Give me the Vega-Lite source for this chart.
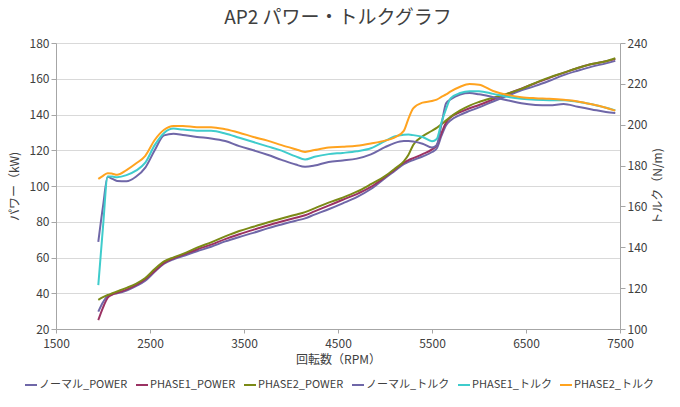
{
  "$schema": "https://vega.github.io/schema/vega-lite/v6.json",
  "autosize": "none",
  "width": 564,
  "height": 286,
  "padding": {"left": 56, "top": 43, "right": 60, "bottom": 78},
  "background": "white",
  "title": {
    "text": "AP2 パワー・トルクグラフ",
    "anchor": "middle",
    "fontSize": 19,
    "fontWeight": "normal",
    "font": "Noto Sans CJK JP",
    "color": "#404040",
    "offset": 9
  },
  "data": {
    "values": [
      {"rpm": 1950, "ノーマル_POWER": 29.7, "PHASE1_POWER": 25, "PHASE2_POWER": 36.3, "ノーマル_トルク": 142.7, "PHASE1_トルク": 121.5, "PHASE2_トルク": 173.5},
      {"rpm": 2000, "ノーマル_POWER": 35, "PHASE1_POWER": 32, "PHASE2_POWER": 37.8, "ノーマル_トルク": 160, "PHASE1_トルク": 150, "PHASE2_トルク": 175},
      {"rpm": 2050, "ノーマル_POWER": 38.5, "PHASE1_POWER": 37.5, "PHASE2_POWER": 39, "ノーマル_トルク": 174.5, "PHASE1_トルク": 174.7, "PHASE2_トルク": 176.3},
      {"rpm": 2100, "ノーマル_POWER": 39.5, "PHASE1_POWER": 39.3, "PHASE2_POWER": 40, "ノーマル_トルク": 173.5, "PHASE1_トルク": 174.6, "PHASE2_トルク": 176},
      {"rpm": 2150, "ノーマル_POWER": 40, "PHASE1_POWER": 40.2, "PHASE2_POWER": 41, "ノーマル_トルク": 172.5, "PHASE1_トルク": 174.3, "PHASE2_トルク": 175.5},
      {"rpm": 2250, "ノーマル_POWER": 41.5, "PHASE1_POWER": 42, "PHASE2_POWER": 43, "ノーマル_トルク": 172.3, "PHASE1_トルク": 175.3, "PHASE2_トルク": 177.8},
      {"rpm": 2350, "ノーマル_POWER": 44, "PHASE1_POWER": 44.5, "PHASE2_POWER": 45.3, "ノーマル_トルク": 174.5, "PHASE1_トルク": 177.5, "PHASE2_トルク": 181},
      {"rpm": 2450, "ノーマル_POWER": 47, "PHASE1_POWER": 47.8, "PHASE2_POWER": 48.5, "ノーマル_トルク": 179, "PHASE1_トルク": 181.4, "PHASE2_トルク": 184.8},
      {"rpm": 2550, "ノーマル_POWER": 52, "PHASE1_POWER": 52.5, "PHASE2_POWER": 53.5, "ノーマル_トルク": 187.5, "PHASE1_トルク": 190, "PHASE2_トルク": 192.5},
      {"rpm": 2650, "ノーマル_POWER": 56.5, "PHASE1_POWER": 57, "PHASE2_POWER": 57.8, "ノーマル_トルク": 194.8, "PHASE1_トルク": 196, "PHASE2_トルク": 197.5},
      {"rpm": 2750, "ノーマル_POWER": 59, "PHASE1_POWER": 59.6, "PHASE2_POWER": 60.1, "ノーマル_トルク": 195.6, "PHASE1_トルク": 198.1, "PHASE2_トルク": 199.4},
      {"rpm": 2850, "ノーマル_POWER": 60.8, "PHASE1_POWER": 61.5, "PHASE2_POWER": 62, "ノーマル_トルク": 195, "PHASE1_トルク": 197.6, "PHASE2_トルク": 199.4},
      {"rpm": 3000, "ノーマル_POWER": 63.5, "PHASE1_POWER": 64.5, "PHASE2_POWER": 65.5, "ノーマル_トルク": 194, "PHASE1_トルク": 197.1, "PHASE2_トルク": 198.8},
      {"rpm": 3150, "ノーマル_POWER": 66, "PHASE1_POWER": 67.2, "PHASE2_POWER": 68.5, "ノーマル_トルク": 193.3, "PHASE1_トルク": 197, "PHASE2_トルク": 198.8},
      {"rpm": 3300, "ノーマル_POWER": 69, "PHASE1_POWER": 70.3, "PHASE2_POWER": 71.8, "ノーマル_トルク": 192, "PHASE1_トルク": 195.7, "PHASE2_トルク": 197.8},
      {"rpm": 3450, "ノーマル_POWER": 71.5, "PHASE1_POWER": 73, "PHASE2_POWER": 74.8, "ノーマル_トルク": 189.5, "PHASE1_トルク": 193.6, "PHASE2_トルク": 196.1},
      {"rpm": 3600, "ノーマル_POWER": 73.8, "PHASE1_POWER": 75.5, "PHASE2_POWER": 77.2, "ノーマル_トルク": 187.5, "PHASE1_トルク": 191.5, "PHASE2_トルク": 194},
      {"rpm": 3750, "ノーマル_POWER": 76.3, "PHASE1_POWER": 77.9, "PHASE2_POWER": 79.6, "ノーマル_トルク": 185.3, "PHASE1_トルク": 189.4, "PHASE2_トルク": 192.2},
      {"rpm": 3900, "ノーマル_POWER": 78.5, "PHASE1_POWER": 80.1, "PHASE2_POWER": 81.8, "ノーマル_トルク": 182.8, "PHASE1_トルク": 187.3, "PHASE2_トルク": 190},
      {"rpm": 4050, "ノーマル_POWER": 80.6, "PHASE1_POWER": 82.2, "PHASE2_POWER": 83.9, "ノーマル_トルク": 180.5, "PHASE1_トルク": 184.5, "PHASE2_トルク": 188},
      {"rpm": 4150, "ノーマル_POWER": 81.9, "PHASE1_POWER": 83.6, "PHASE2_POWER": 85.4, "ノーマル_トルク": 179.4, "PHASE1_トルク": 183, "PHASE2_トルク": 186.7},
      {"rpm": 4250, "ノーマル_POWER": 84, "PHASE1_POWER": 85.8, "PHASE2_POWER": 87.5, "ノーマル_トルク": 180, "PHASE1_トルク": 184.3, "PHASE2_トルク": 187.6},
      {"rpm": 4400, "ノーマル_POWER": 87, "PHASE1_POWER": 89, "PHASE2_POWER": 90.7, "ノーマル_トルク": 181.8, "PHASE1_トルク": 185.6, "PHASE2_トルク": 188.8},
      {"rpm": 4550, "ノーマル_POWER": 90.3, "PHASE1_POWER": 92.3, "PHASE2_POWER": 93.5, "ノーマル_トルク": 182.5, "PHASE1_トルク": 186.2, "PHASE2_トルク": 189.2},
      {"rpm": 4700, "ノーマル_POWER": 93.8, "PHASE1_POWER": 95.5, "PHASE2_POWER": 96.8, "ノーマル_トルク": 183.4, "PHASE1_トルク": 187, "PHASE2_トルク": 189.7},
      {"rpm": 4850, "ノーマル_POWER": 98.3, "PHASE1_POWER": 99.5, "PHASE2_POWER": 101, "ノーマル_トルク": 185.5, "PHASE1_トルク": 188.5, "PHASE2_トルク": 190.8},
      {"rpm": 5000, "ノーマル_POWER": 104.4, "PHASE1_POWER": 105, "PHASE2_POWER": 105.5, "ノーマル_トルク": 189, "PHASE1_トルク": 192, "PHASE2_トルク": 192.2},
      {"rpm": 5100, "ノーマル_POWER": 108.3, "PHASE1_POWER": 109, "PHASE2_POWER": 109.5, "ノーマル_トルク": 191, "PHASE1_トルク": 194.2, "PHASE2_トルク": 193.7},
      {"rpm": 5200, "ノーマル_POWER": 112.2, "PHASE1_POWER": 113, "PHASE2_POWER": 113.8, "ノーマル_トルク": 192, "PHASE1_トルク": 195.1, "PHASE2_トルク": 197},
      {"rpm": 5250, "ノーマル_POWER": 113.5, "PHASE1_POWER": 114.5, "PHASE2_POWER": 117.5, "ノーマル_トルク": 192, "PHASE1_トルク": 195.2, "PHASE2_トルク": 203},
      {"rpm": 5300, "ノーマル_POWER": 114.5, "PHASE1_POWER": 115.6, "PHASE2_POWER": 123, "ノーマル_トルク": 191.8, "PHASE1_トルク": 194.9, "PHASE2_トルク": 208},
      {"rpm": 5400, "ノーマル_POWER": 116.5, "PHASE1_POWER": 117.8, "PHASE2_POWER": 127.8, "ノーマル_トルク": 190.7, "PHASE1_トルク": 194, "PHASE2_トルク": 210.8},
      {"rpm": 5500, "ノーマル_POWER": 119, "PHASE1_POWER": 120.5, "PHASE2_POWER": 130.9, "ノーマル_トルク": 188.8, "PHASE1_トルク": 191.9, "PHASE2_トルク": 211.6},
      {"rpm": 5550, "ノーマル_POWER": 121, "PHASE1_POWER": 122.8, "PHASE2_POWER": 132.5, "ノーマル_トルク": 190, "PHASE1_トルク": 193, "PHASE2_トルク": 212.3},
      {"rpm": 5600, "ノーマル_POWER": 128, "PHASE1_POWER": 129.5, "PHASE2_POWER": 134.5, "ノーマル_トルク": 200, "PHASE1_トルク": 201, "PHASE2_トルク": 213.6},
      {"rpm": 5650, "ノーマル_POWER": 134, "PHASE1_POWER": 135.5, "PHASE2_POWER": 136.7, "ノーマル_トルク": 210.5, "PHASE1_トルク": 207.8, "PHASE2_トルク": 214.8},
      {"rpm": 5700, "ノーマル_POWER": 136.8, "PHASE1_POWER": 138.5, "PHASE2_POWER": 138.8, "ノーマル_トルク": 212.5, "PHASE1_トルク": 213, "PHASE2_トルク": 216.3},
      {"rpm": 5800, "ノーマル_POWER": 139.8, "PHASE1_POWER": 141.3, "PHASE2_POWER": 142.3, "ノーマル_トルク": 214.8, "PHASE1_トルク": 215.5, "PHASE2_トルク": 218.6},
      {"rpm": 5900, "ノーマル_POWER": 142, "PHASE1_POWER": 143.5, "PHASE2_POWER": 145, "ノーマル_トルク": 215.5, "PHASE1_トルク": 216.4, "PHASE2_トルク": 219.9},
      {"rpm": 6000, "ノーマル_POWER": 144, "PHASE1_POWER": 145.3, "PHASE2_POWER": 147, "ノーマル_トルク": 214.9, "PHASE1_トルク": 216.4, "PHASE2_トルク": 219.6},
      {"rpm": 6150, "ノーマル_POWER": 147.3, "PHASE1_POWER": 148.5, "PHASE2_POWER": 149.4, "ノーマル_トルク": 213.5, "PHASE1_トルク": 215.1, "PHASE2_トルク": 216.5},
      {"rpm": 6300, "ノーマル_POWER": 150.4, "PHASE1_POWER": 151.5, "PHASE2_POWER": 151.6, "ノーマル_トルク": 212, "PHASE1_トルク": 213.7, "PHASE2_トルク": 214.6},
      {"rpm": 6450, "ノーマル_POWER": 153.5, "PHASE1_POWER": 154.5, "PHASE2_POWER": 154.3, "ノーマル_トルク": 210.5, "PHASE1_トルク": 212.7, "PHASE2_トルク": 213.5},
      {"rpm": 6600, "ノーマル_POWER": 156, "PHASE1_POWER": 157.5, "PHASE2_POWER": 157.7, "ノーマル_トルク": 209.7, "PHASE1_トルク": 212.2, "PHASE2_トルク": 213},
      {"rpm": 6750, "ノーマル_POWER": 158.9, "PHASE1_POWER": 160.5, "PHASE2_POWER": 160.8, "ノーマル_トルク": 209.5, "PHASE1_トルク": 212, "PHASE2_トルク": 212.7},
      {"rpm": 6900, "ノーマル_POWER": 162, "PHASE1_POWER": 163.3, "PHASE2_POWER": 163.4, "ノーマル_トルク": 210.1, "PHASE1_トルク": 212, "PHASE2_トルク": 212.2},
      {"rpm": 7050, "ノーマル_POWER": 164.5, "PHASE1_POWER": 166, "PHASE2_POWER": 166, "ノーマル_トルク": 208.8, "PHASE1_トルク": 211.2, "PHASE2_トルク": 211.4},
      {"rpm": 7200, "ノーマル_POWER": 166.8, "PHASE1_POWER": 168.2, "PHASE2_POWER": 168.3, "ノーマル_トルク": 207.5, "PHASE1_トルク": 210, "PHASE2_トルク": 210},
      {"rpm": 7350, "ノーマル_POWER": 168.6, "PHASE1_POWER": 169.8, "PHASE2_POWER": 169.8, "ノーマル_トルク": 206.2, "PHASE1_トルク": 208.3, "PHASE2_トルク": 208.3},
      {"rpm": 7450, "ノーマル_POWER": 170, "PHASE1_POWER": 171, "PHASE2_POWER": 171.5, "ノーマル_トルク": 205.7, "PHASE1_トルク": 207, "PHASE2_トルク": 206.9}
    ]
  },
  "encoding": {
    "x": {
      "field": "rpm",
      "type": "quantitative",
      "scale": {"domain": [1500, 7500], "nice": false, "zero": false},
      "axis": {
        "title": "回転数（RPM）",
        "format": "d",
        "values": [1500, 2500, 3500, 4500, 5500, 6500, 7500],
        "grid": false,
        "labelFlush": false,
        "labelPadding": 5,
        "tickSize": 4,
        "titlePadding": 5
      }
    },
    "color": {
      "field": "series",
      "type": "nominal",
      "scale": {
        "domain": ["ノーマル_POWER", "PHASE1_POWER", "PHASE2_POWER", "ノーマル_トルク", "PHASE1_トルク", "PHASE2_トルク"],
        "range": ["#6f67a8", "#9b3263", "#7b8a16", "#6f67a8", "#3fcccc", "#ffa31f"]
      },
      "legend": {"title": null, "orient": "none", "legendX": -32, "legendY": 335}
    }
  },
  "layer": [
    {
      "transform": [
        {"fold": ["ノーマル_POWER", "PHASE1_POWER", "PHASE2_POWER"], "as": ["series", "value"]}
      ],
      "mark": {"type": "line", "strokeWidth": 2, "interpolate": "monotone"},
      "encoding": {
        "y": {
          "field": "value",
          "type": "quantitative",
          "scale": {"domain": [20, 180], "nice": false, "zero": false},
          "axis": {
            "title": "パワー（kW)",
            "values": [20, 40, 60, 80, 100, 120, 140, 160, 180],
            "grid": true,
            "tickSize": 5,
            "titlePadding": 8
          }
        }
      }
    },
    {
      "transform": [
        {"fold": ["ノーマル_トルク", "PHASE1_トルク", "PHASE2_トルク"], "as": ["series", "value"]}
      ],
      "mark": {"type": "line", "strokeWidth": 2, "interpolate": "monotone"},
      "encoding": {
        "y": {
          "field": "value",
          "type": "quantitative",
          "scale": {"domain": [100, 240], "nice": false, "zero": false},
          "axis": {
            "title": "トルク（N/m)",
            "orient": "right",
            "values": [100, 120, 140, 160, 180, 200, 220, 240],
            "grid": false,
            "tickSize": 5,
            "titleAngle": -90,
            "titleBaseline": "top",
            "titlePadding": 6
          }
        }
      }
    }
  ],
  "resolve": {"scale": {"y": "independent"}},
  "config": {
    "font": "Noto Sans CJK JP",
    "view": {"stroke": null},
    "axis": {
      "labelFont": "Noto Sans CJK JP",
      "labelFontSize": 12,
      "labelColor": "#404040",
      "titleFont": "Noto Sans CJK JP",
      "titleFontSize": 12,
      "titleFontWeight": "normal",
      "titleColor": "#404040",
      "domainColor": "#a6a6a6",
      "tickColor": "#a6a6a6",
      "gridColor": "#d9d9d9"
    },
    "legend": {
      "direction": "horizontal",
      "columns": 6,
      "symbolType": "stroke",
      "symbolSize": 144,
      "symbolStrokeWidth": 2,
      "labelFont": "Noto Sans CJK JP",
      "labelFontSize": 11,
      "labelColor": "#404040",
      "labelOffset": 1,
      "columnPadding": 4
    }
  }
}
